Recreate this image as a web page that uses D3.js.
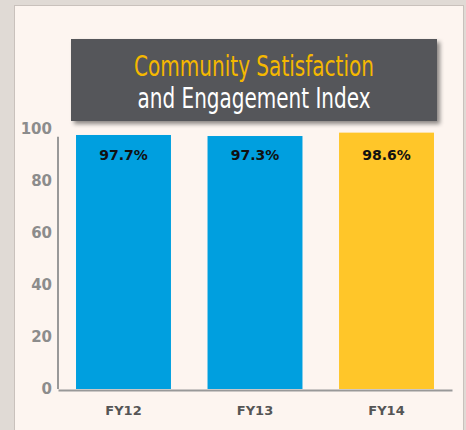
<!DOCTYPE html>
<html lang="en">
<head>
<meta charset="UTF-8">
<title>Community Satisfaction and Engagement Index</title>
<script src="https://cdnjs.cloudflare.com/ajax/libs/d3/7.8.5/d3.min.js"></script>
<style>
    body { margin: 0; background: #e0dad5; }
    svg { display: block; }
</style>
</head>
<body>
<svg id="chart"></svg>
<script>
    const width = 466;
    const height = 430;

    const years = ["FY12", "FY13", "FY14"];
    const scores = [97.7, 97.3, 98.6];
    const barColors = ["#009fdf", "#009fdf", "#ffc629"];
    const yTicks = [0, 20, 40, 60, 80, 100];

    const svg = d3.select("#chart")
        .attr("width", width)
        .attr("height", height);

    // panel
    svg.append("rect")
        .attr("x", 14.5).attr("y", 5.5)
        .attr("width", 449).attr("height", 430)
        .attr("fill", "#fdf5f0")
        .attr("stroke", "#c9c1bc");

    const x = d3.scaleBand()
        .domain(years)
        .range([58, 452])
        .paddingInner(0.278)
        .paddingOuter(0.137);

    const y = d3.scaleLinear()
        .domain([0, 100])
        .range([389, 129]);

    // bars
    svg.selectAll(".bar")
        .data(years)
        .join("rect")
        .attr("class", "bar")
        .attr("x", d => x(d))
        .attr("y", (d, i) => y(scores[i]))
        .attr("width", x.bandwidth())
        .attr("height", (d, i) => y(0) - y(scores[i]))
        .attr("fill", (d, i) => barColors[i]);

    // value labels
    svg.selectAll(".val")
        .data(years)
        .join("text")
        .attr("class", "val")
        .attr("x", d => x(d) + x.bandwidth() / 2)
        .attr("y", 160)
        .attr("text-anchor", "middle")
        .attr("font-family", "'DejaVu Sans', sans-serif")
        .attr("font-weight", "bold")
        .attr("font-size", 14)
        .attr("fill", "#111")
        .text((d, i) => scores[i].toFixed(1) + "%");

    // y axis
    const yAxis = svg.append("g")
        .attr("transform", "translate(58,0)")
        .call(d3.axisLeft(y).tickValues(yTicks).tickSize(0).tickPadding(6));
    yAxis.select(".domain").attr("stroke", "#999").attr("stroke-width", 2)
        .attr("d", "M0," + y(97) + "V" + y(0));
    yAxis.selectAll("text")
        .attr("font-family", "'DejaVu Sans', sans-serif")
        .attr("font-weight", "bold")
        .attr("font-size", 15)
        .attr("fill", "#8c8c8c");

    // x axis
    const xAxis = svg.append("g")
        .attr("transform", "translate(0,390)")
        .call(d3.axisBottom(x).tickSize(0).tickPadding(16));
    xAxis.select(".domain").attr("stroke", "#999").attr("stroke-width", 2);
    xAxis.selectAll("text")
        .attr("font-family", "'DejaVu Sans', sans-serif")
        .attr("font-weight", "bold")
        .attr("font-size", 13)
        .attr("fill", "#555");

    // title box
    const shadow = svg.append("defs").append("filter")
        .attr("id", "shadow").attr("x", "-10%").attr("y", "-20%")
        .attr("width", "120%").attr("height", "150%");
    shadow.append("feDropShadow")
        .attr("dx", 3).attr("dy", 3).attr("stdDeviation", 2)
        .attr("flood-color", "#000").attr("flood-opacity", 0.45);

    svg.append("rect")
        .attr("x", 71).attr("y", 39)
        .attr("width", 366).attr("height", 82)
        .attr("fill", "#55565a")
        .attr("filter", "url(#shadow)");

    svg.append("text")
        .attr("x", 254).attr("y", 76)
        .attr("text-anchor", "middle")
        .attr("font-family", "'Liberation Sans Narrow', 'DejaVu Sans Condensed', sans-serif")
        .attr("font-size", 28)
        .attr("textLength", 240)
        .attr("lengthAdjust", "spacingAndGlyphs")
        .attr("fill", "#f5b800")
        .text("Community Satisfaction");

    svg.append("text")
        .attr("x", 254).attr("y", 108)
        .attr("text-anchor", "middle")
        .attr("font-family", "'Liberation Sans Narrow', 'DejaVu Sans Condensed', sans-serif")
        .attr("font-size", 28)
        .attr("textLength", 233)
        .attr("lengthAdjust", "spacingAndGlyphs")
        .attr("fill", "#ffffff")
        .text("and Engagement Index");
</script>
</body>
</html>
